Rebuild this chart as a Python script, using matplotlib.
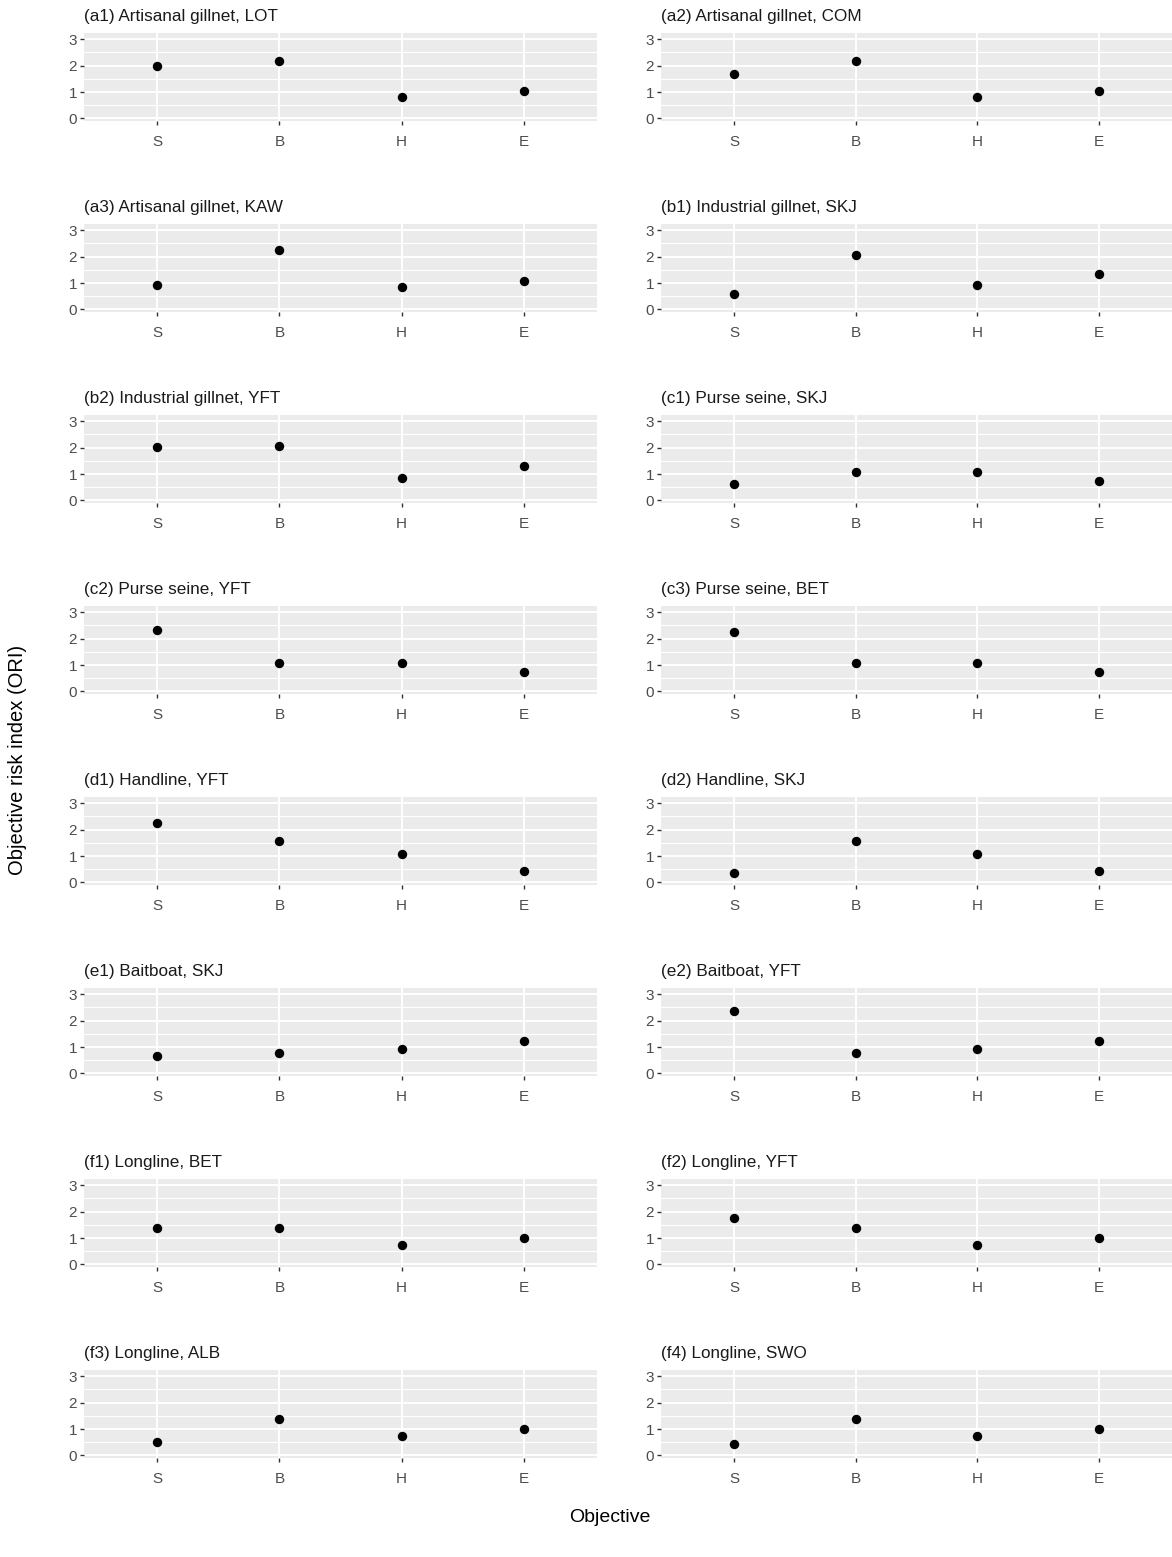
import matplotlib
matplotlib.use("Agg")
import matplotlib.pyplot as plt
from matplotlib.ticker import FixedLocator

plt.rcParams["font.family"] = ["Liberation Sans", "DejaVu Sans"]

objectives = ["S", "B", "H", "E"]

titles = [
    "(a1) Artisanal gillnet, LOT", "(a2) Artisanal gillnet, COM",
    "(a3) Artisanal gillnet, KAW", "(b1) Industrial gillnet, SKJ",
    "(b2) Industrial gillnet, YFT", "(c1) Purse seine, SKJ",
    "(c2) Purse seine, YFT", "(c3) Purse seine, BET",
    "(d1) Handline, YFT", "(d2) Handline, SKJ",
    "(e1) Baitboat, SKJ", "(e2) Baitboat, YFT",
    "(f1) Longline, BET", "(f2) Longline, YFT",
    "(f3) Longline, ALB", "(f4) Longline, SWO",
]

# Objective risk index per objective (S, B, H, E)
a1_lot = [1.97, 2.19, 0.80, 1.03]
a2_com = [1.68, 2.19, 0.80, 1.03]
a3_kaw = [0.94, 2.24, 0.86, 1.07]
b1_skj = [0.58, 2.08, 0.94, 1.36]
b2_yft = [2.01, 2.08, 0.85, 1.29]
c1_skj = [0.64, 1.07, 1.07, 0.72]
c2_yft = [2.32, 1.07, 1.07, 0.72]
c3_bet = [2.24, 1.07, 1.07, 0.72]
d1_yft = [2.24, 1.57, 1.07, 0.42]
d2_skj = [0.36, 1.57, 1.07, 0.42]
e1_skj = [0.65, 0.79, 0.94, 1.23]
e2_yft = [2.38, 0.79, 0.94, 1.23]
f1_bet = [1.37, 1.37, 0.72, 1.00]
f2_yft = [1.75, 1.37, 0.72, 1.00]
f3_alb = [0.52, 1.37, 0.73, 1.01]
f4_swo = [0.43, 1.37, 0.73, 1.01]

series = [a1_lot, a2_com, a3_kaw, b1_skj, b2_yft, c1_skj, c2_yft, c3_bet,
          d1_yft, d2_skj, e1_skj, e2_yft, f1_bet, f2_yft, f3_alb, f4_swo]

W, H = 1172, 1557
fig = plt.figure(figsize=(W / 100, H / 100), dpi=100)
fig.patch.set_facecolor("white")

col_left = [84, 661]
col_right = [597, 1172]
panel_h = 88
row_top0 = 33
row_step = 191

for i, (title, vals) in enumerate(zip(titles, series)):
    r, c = divmod(i, 2)
    top = row_top0 + row_step * r
    left = col_left[c]
    width = col_right[c] - left
    ax = fig.add_axes([left / W, 1 - (top + panel_h) / H, width / W, panel_h / H])
    ax.set_facecolor("#EBEBEB")
    for s in ax.spines.values():
        s.set_visible(False)
    xs = list(range(1, len(objectives) + 1))
    ax.set_xlim(0.4, 4.6)
    ax.set_ylim(-0.1, 3.24)
    ax.set_xticks(xs)
    ax.set_xticklabels(objectives)
    ax.set_yticks([0, 1, 2, 3])
    ax.yaxis.set_minor_locator(FixedLocator([0.5, 1.5, 2.5]))
    ax.grid(True, which="major", color="white", linewidth=1.4)
    ax.grid(True, which="minor", axis="y", color="white", linewidth=0.8)
    ax.set_axisbelow(True)
    ax.tick_params(axis="both", which="major", length=3, width=1.0,
                   color="#333333", labelcolor="#4D4D4D", labelsize=11, pad=2)
    ax.tick_params(axis="x", pad=7)
    ax.tick_params(which="minor", length=0)
    ax.scatter(xs, vals, s=46, color="black", zorder=3, linewidths=0)
    ax.text(0.0, 1.0 + 9 / panel_h, title, transform=ax.transAxes,
            ha="left", va="bottom", fontsize=12.3, color="#1A1A1A")

fig.text(18 / W, 1 - 760 / H, "Objective risk index (ORI)", rotation=90,
         ha="center", va="center", fontsize=14.5, color="black")
fig.text(610 / W, 1 - 1517 / H, "Objective", ha="center", va="center",
         fontsize=14, color="black")

fig.savefig("out.png", dpi=100, facecolor="white")
